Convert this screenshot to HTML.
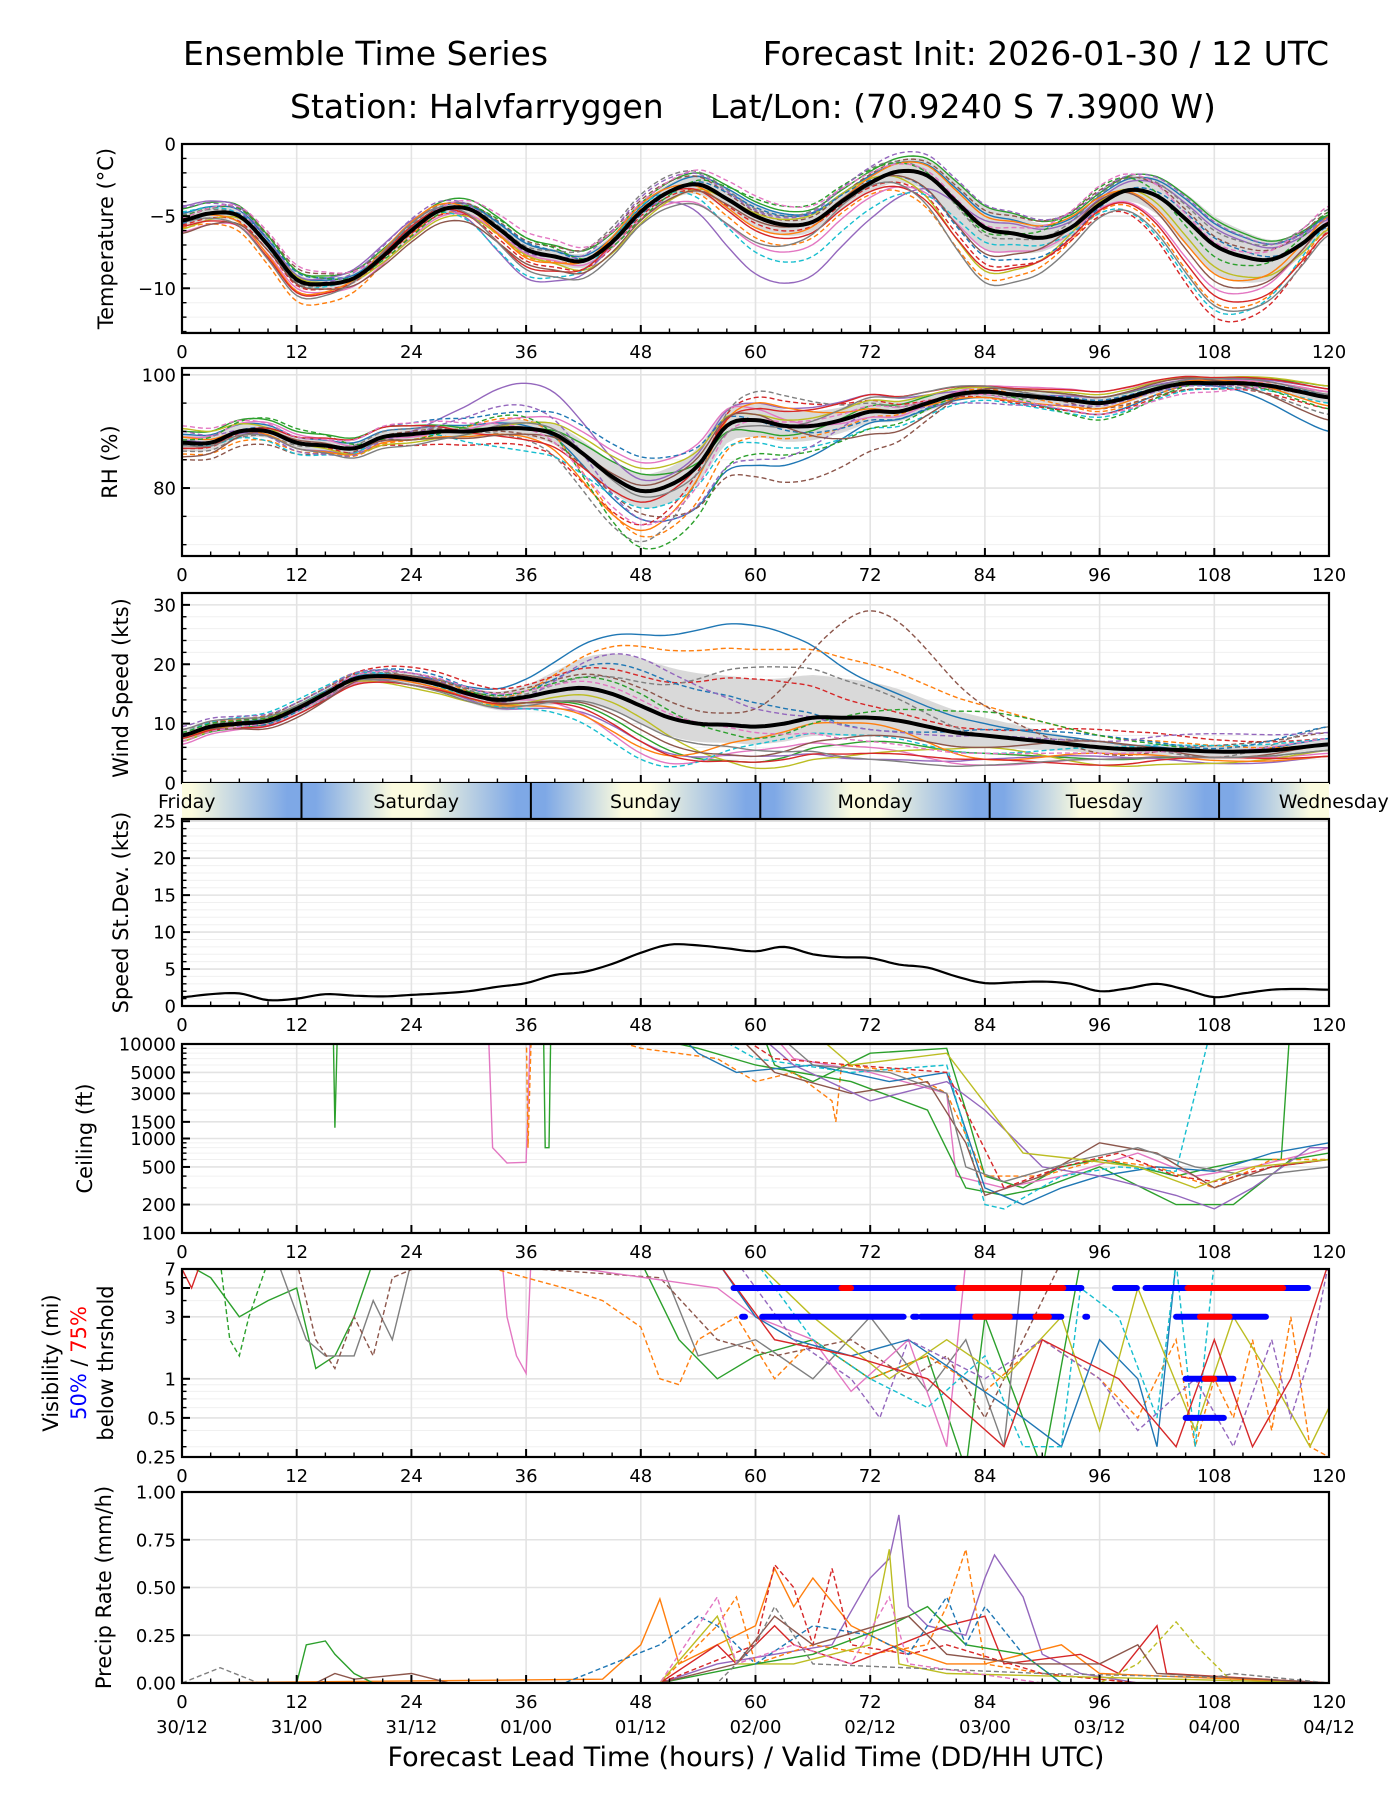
<!DOCTYPE html>
<html><head><meta charset="utf-8"><title>Ensemble Time Series</title>
<style>html,body{margin:0;padding:0;background:#fff;}svg{display:block;font-family:"DejaVu Sans","Liberation Sans",sans-serif;}</style>
</head><body>
<svg id="fig" width="1400" height="1800" viewBox="0 0 1400 1800" xmlns="http://www.w3.org/2000/svg">
<defs>
<linearGradient id="dayGrad" x1="182" x2="1329" y1="0" y2="0" gradientUnits="userSpaceOnUse"></linearGradient>
</defs>
<text x="183" y="65" font-size="33">Ensemble Time Series</text>
<text x="1329" y="65" font-size="33" text-anchor="end">Forecast Init: 2026-01-30 / 12 UTC</text>
<text x="290" y="118" font-size="33">Station: Halvfarryggen</text>
<text x="710" y="118" font-size="33">Lat/Lon: (70.9240 S 7.3900 W)</text>
<g id="plots"></g>
<text x="746" y="1766" font-size="27" text-anchor="middle">Forecast Lead Time (hours) / Valid Time (DD/HH UTC)</text>
</svg>
<script>
// ---------------- data ----------------
const xTicks = [0,12,24,36,48,60,72,84,96,108,120];
const dateLabels = ["30/12","31/00","31/12","01/00","01/12","02/00","02/12","03/00","03/12","04/00","04/12"];
const dayNames = ["Friday","Saturday","Sunday","Monday","Tuesday","Wednesday"];
const dayCenters = [0.5,24.5,48.5,72.5,96.5,120.5];
const dayBounds = [12.5,36.5,60.5,84.5,108.5];
// temperature mean, 3-hourly
const tempMean = [-5.3,-4.8,-5.0,-7.0,-9.4,-9.7,-9.3,-7.8,-6.0,-4.6,-4.5,-5.8,-7.3,-7.8,-8.1,-6.8,-4.7,-3.3,-2.8,-3.8,-5.0,-5.6,-5.4,-4.0,-2.7,-1.9,-2.2,-4.0,-5.8,-6.2,-6.5,-5.8,-4.2,-3.2,-3.6,-5.2,-7.0,-7.8,-8.0,-7.0,-5.5];
const tempSpread = [0.5,0.4,0.4,0.5,0.5,0.8,0.6,1.5,0.5,2.0,0.5];
const tempDev0 = [0.5,0.3,0.2,0.4,0.3,0.8,0.5,1.0,0.6,1.5,0.5];
const tempDev1 = [-0.5,-1.5,-0.3,-0.5,0.2,-1.5,-0.8,-3.5,-0.5,-4.0,-0.3];
const tempDev2 = [0.8,0.6,0.5,0.8,0.6,1.0,0.8,1.5,0.8,1.8,0.6];
const tempDev3 = [-0.3,-0.4,-0.2,-0.8,-0.3,-0.5,-0.3,-2.5,-0.8,-5.0,-0.5];
const tempDev4 = [1.0,0.3,0.7,-2.0,0.0,-4.0,-2.5,0.5,0.4,1.2,0.3];
const tempDev5 = [0.2,0.8,0.2,0.6,0.8,0.3,0.6,1.2,1.0,0.6,0.8];
const tempDev6 = [-0.8,-0.6,-0.5,-0.3,-0.5,-2.0,-1.0,-1.5,-0.3,-3.0,0.2];
const tempDev7 = [0.4,-0.2,0.4,0.2,1.2,0.5,1.0,-0.5,0.7,1.0,1.0];
const tempDev8 = [-0.6,0.2,-0.6,-0.4,-0.8,0.2,0.3,-3.0,0.2,-1.5,-0.4];
const tempDev9 = [0.6,-0.3,0.3,-1.8,0.4,-2.5,-1.8,-1.0,-0.6,-4.5,0.0];
const tempDev10 = [-0.2,0.5,-0.1,0.5,-0.2,0.6,0.2,-2.0,-0.2,0.5,-0.2];
const tempDev11 = [0.1,-0.8,0.6,-0.6,0.5,-0.8,0.4,0.8,0.5,-2.0,0.5];
const tempDev12 = [0.3,0.6,-0.4,0.8,-0.5,1.2,0.9,-0.3,1.2,-0.8,0.8];
const tempDev13 = [-0.4,-0.9,0.3,-1.2,0.1,-1.0,-0.6,-2.8,-0.4,-3.5,-0.6];
const tempDev14 = [0.9,0.0,0.8,-0.2,1.0,0.4,1.1,1.6,0.9,1.6,0.4];
const tempDev15 = [-0.9,-0.3,-0.8,-1.0,-0.6,-0.3,0.1,-1.8,0.3,-2.5,0.1];
const tempDev16 = [0.2,1.0,0.0,1.2,0.6,1.4,0.7,0.2,1.3,0.2,1.2];
const tempDev17 = [-0.1,-1.1,0.5,-1.4,-0.9,-1.8,-0.2,-3.8,-0.9,-4.2,-0.8];
// RH
const rhMean = [88,88,90,90,88,87.5,87,89,89.5,90,90,90.5,90.5,89.5,86,82,79.5,80.5,84,91,92,91,91,92,93.5,93.5,95,96.5,97,96.5,96,95.5,95,96,97.5,98.5,98.5,98.5,98,97,96];
const rhSpread = [1.5,1,1,1.5,3,3,2,1,1,0.5,1];
const rhDev0 = [1.5,1.0,1.0,0.5,-5,-8,-2,-1,-2,-0.5,-6];
const rhDev1 = [-2,-1.5,-1,1.5,-8,-3,-1,0.5,-1.5,0,1];
const rhDev2 = [2,2,1.5,0,3,-2,1,1,1,0.5,2];
const rhDev3 = [-1,0,-2,-3,-6,4,2,-1,-2,-1,-2];
const rhDev4 = [0.5,-1,0.5,8,2,3,3,0,1,0.5,1.5];
const rhDev5 = [-3,-2,0.5,-1,-4,-10,-7,0.5,-1,-1,0];
const rhDev6 = [1,1.5,-0.5,2,5,2,-1,1,2,0.5,1];
const rhDev7 = [-1.5,-0.5,1,-2,-9,5,1.5,-0.5,0,-0.3,-3];
const rhDev8 = [2.5,0,-1.5,1,4,1,2,0.8,1.5,1,2];
const rhDev9 = [0,-2,0,-4,-3,-4,-3,-1.5,-2.5,-1,-1];
const rhDev10 = [-0.5,1,2,3,6,0,-1.5,0,0.5,0,0.5];
const rhDev11 = [1,-1,-1,-1.5,-7,3,0.5,-1,-1,0.5,-1.5];
const rhDev12 = [0.5,2.5,-1,2,-10,-6,-3,0,-3,0,-2];
const rhDev13 = [-1,1,1.5,-2,-2,2,3,1,2,1,1.5];
const rhDev14 = [2,-1.5,0,4,-5,-7,0,-2,-0.5,-0.5,0];
const rhDev15 = [-2.5,0.5,-1,-1,1,1,-4,0.5,1,0.5,-4];
const rhDev16 = [3,1,2,0,-6,0,1,-0.5,-2,-1.5,1];
const rhDev17 = [-0.5,-1,-2,1,-1,-1,2.5,1,0,0.8,0.5];
// wind
const windMean = [8,9.5,10,10.5,12.5,15,17.5,18,17.5,16.5,15,14,14.5,15.5,16,15,13,11,10,9.8,9.5,10,11,11,11,10.5,9.5,8.5,8,7.5,7,6.5,6,5.7,5.7,5.5,5.3,5.3,5.5,6,6.5];
const windUpper = [1,1,1,2,8,8,6,3,1,1,1];
const windLower = [1,1,1,2,3,3,3,2,1,1,1];
const windDev0 = [0,0.5,0.5,3,12,17,6,2,1,0,1];
const windDev1 = [0.5,1,1,1,10,13,9,5,2,1,0];
const windDev2 = [-1,-0.5,-1,-1,-5,-6,-4,-3,-2,-1,-1];
const windDev3 = [1,0,2,2,5,8,2,1,3,2,1];
const windDev4 = [-0.5,-1,-0.5,-2,-6,-5,-7,-4,-1.5,-2,-2];
const windDev5 = [0,1,0.5,1.5,3,3,18,5,-1,1,2];
const windDev6 = [-1.5,-0.5,-1,-0.5,-8,-4,-5,-5,-2,-1,-1.5];
const windDev7 = [1,-1,1,0.5,4,10,5,0,1,-1,3];
const windDev8 = [-1,0.5,-1.5,-1,-2,-7,-6,-2,-3,-2,-1];
const windDev9 = [0.5,1.5,0,-2,-9,-3,-3,-3,0,1,1];
const windDev10 = [0,-0.5,1.5,1,6,4,-2,1,2,0.5,3];
const windDev11 = [-0.5,0,-0.5,-1.5,-7,-2,-1,-4,-1,-1.5,-2];
const windDev12 = [0.5,0.5,0,1,2,-2,1,4,2,0,0];
const windDev13 = [-0.5,-1,-1,-1,-6,-6,-6,-4,-3,-1,-2];
const windDev14 = [1.5,1,1,0,8,3,-2,0,1,3,2];
const windDev15 = [0,-1.5,0.5,-1,-4,-5,-3,-2,1,-1,0];
const windDev16 = [-1,0,1,1,1,-1,-4,-3,-1,0,1];
const windDev17 = [1,0.5,-1,-1.5,-3,-4,-7,-5,-2,-1,-1];
// speed std dev
const stdVals = [1.2,1.6,1.7,0.8,1.0,1.6,1.4,1.3,1.5,1.7,2.0,2.6,3.1,4.2,4.6,5.7,7.2,8.3,8.2,7.8,7.4,8.0,7.0,6.6,6.5,5.6,5.2,4.0,3.1,3.2,3.3,3.0,2.0,2.4,3.0,2.2,1.2,1.7,2.2,2.3,2.2];
// ceiling members [hour, ft]
const ceil0 = [[0,20000],[15.8,20000],[16,1300],[16.3,20000],[60,20000],[62,6000],[66,4000],[72,8000],[80,9000],[82,2000],[84,400],[88,300],[92,500],[96,600],[100,500],[104,400],[108,500],[112,600],[115,600],[116,20000]];
const ceil1 = [[0,20000],[32,20000],[32.5,800],[34,550],[36,560],[36.5,20000],[60,20000],[64,7000],[72,5000],[80,3000],[81,400],[86,300],[92,400],[100,700],[106,400],[112,500],[118,700],[120,800]];
const ceil2 = [[36,20000],[36.2,800],[36.6,20000],[48,9000],[56,7000],[60,4000],[64,5000],[68,2500],[68.4,1500],[69,6000],[76,5000],[80,3000],[84,400],[90,400],[96,600],[102,500],[108,300],[114,600],[120,600]];
const ceil3 = [[37.8,20000],[38,800],[38.4,800],[38.6,20000],[54,9000],[60,6000],[70,4000],[78,2000],[82,300],[86,250],[90,300],[96,500],[104,200],[110,200],[116,600],[120,700]];
const ceil4 = [[50,20000],[54,8000],[58,5000],[66,6000],[74,4000],[80,5000],[84,300],[88,200],[92,300],[96,400],[102,500],[108,450],[114,700],[120,900]];
const ceil5 = [[52,20000],[60,7000],[70,5000],[80,6000],[84,200],[86,180],[92,400],[98,500],[104,450],[108,20000]];
const ceil6 = [[56,20000],[62,5000],[70,3000],[78,4000],[82,900],[84,250],[90,400],[96,900],[102,700],[108,300],[114,500],[120,600]];
const ceil7 = [[58,20000],[64,6000],[72,2500],[80,4000],[84,2000],[90,500],[96,400],[104,250],[108,180],[112,300],[118,800],[120,800]];
const ceil8 = [[55,20000],[62,7000],[70,6000],[80,5000],[86,300],[92,500],[98,700],[104,400],[108,350],[114,500],[120,600]];
const ceil9 = [[60,20000],[66,6000],[74,5000],[80,3000],[82,500],[86,350],[94,600],[100,800],[106,500],[112,400],[120,500]];
const ceil10 = [[64,20000],[70,6000],[80,8000],[88,700],[94,600],[100,500],[106,300],[112,500],[120,600]];
// visibility members [hour, mi]
const vis0 = [[0,8],[3,6],[6,3],[9,4],[12,5],[14,1.2],[16,1.5],[18,3],[20,8],[48,8],[52,2],[56,1],[60,1.5],[66,2],[72,1],[78,1.5],[82,0.2],[84,3],[90,0.2],[94,8]];
const vis1 = [[4,8],[5,2],[6,1.5],[7,3],[9,8]];
const vis2 = [[10,8],[13,2],[15,1.5],[18,1.5],[20,4],[22,2],[24,8],[50,8],[54,1.5],[60,2],[66,1],[72,3],[78,0.8],[82,2],[86,0.3],[88,8]];
const vis3 = [[12,8],[14,2],[16,1.2],[18,3],[20,1.5],[22,6],[26,8],[50,6],[56,2],[62,1.5],[70,2],[76,1],[80,1.5],[84,0.5],[88,2],[92,8]];
const vis4 = [[33.5,8],[34,3],[35,1.5],[36,1.1],[36.5,8],[56,5],[60,3],[66,2],[70,0.8],[76,2],[80,0.3],[82,8]];
const vis5 = [[30,8],[36,6],[40,5],[44,4],[48,2.5],[50,1],[52,0.9],[54,2],[58,3],[62,1],[66,2],[72,1],[78,1.5],[84,0.8],[90,2],[96,1],[100,0.5],[104,2],[106,0.3],[108,1],[110,0.5],[112,2],[114,0.4],[116,3],[118,0.3],[120,0.25]];
const vis6 = [[56,8],[60,3],[64,2],[70,1.5],[76,2],[82,1],[88,0.5],[92,0.3],[96,2],[100,1],[102,0.3],[104,8]];
const vis7 = [[60,8],[66,2],[72,1],[78,0.6],[84,1.5],[88,0.3],[92,0.3],[94,5],[98,3],[102,0.5],[104,8],[106,0.3],[108,8]];
const vis8 = [[60,8],[66,3],[74,1],[80,2],[86,1],[92,3],[96,0.4],[100,5],[106,0.4],[110,3],[114,1],[118,0.3],[120,0.6]];
const vis9 = [[58,8],[64,2],[70,1],[73,0.5],[76,2],[84,1],[90,2],[96,1],[100,0.4],[106,1],[110,0.3],[114,2],[116,0.5],[118,1.5],[120,8]];
const vis10 = [[0,7],[1,5],[2,8],[56,8],[62,2],[70,1.5],[78,1],[86,0.3],[90,2],[98,1],[104,0.3],[108,2],[112,0.3],[116,1],[120,8]];
// threshold bars [level, start, end]
const visBlue = [[5,57.7,94.1],[5,97.6,99.9],[5,100.8,117.8],[3,58.6,58.9],[3,60.7,75.5],[3,76.5,76.9],[3,77.3,92],[3,94.5,94.7],[3,104,113.4],[1,105,110],[0.5,105,109]];
const visRed = [[5,69,70],[5,81.2,92.2],[5,105.2,115.2],[3,83,86.6],[3,89.3,90.7],[3,106.5,109.6],[1,107,108]];
// precip members [hour, mm/h]
const pr0 = [[0,0],[50,0],[56,0.1],[62,0.15],[68,0.2],[72,0.55],[74,0.65],[75,0.88],[76,0.4],[78,0.3],[82,0.25],[84,0.55],[85,0.67],[88,0.45],[90,0.15],[94,0.05],[100,0],[120,0]];
const pr1 = [[0,0],[44,0.02],[48,0.2],[50,0.44],[52,0.1],[56,0.2],[60,0.3],[62,0.6],[64,0.4],[66,0.55],[70,0.3],[74,0.2],[80,0.1],[84,0.1],[92,0.2],[96,0.05],[120,0]];
const pr2 = [[0,0],[50,0],[56,0.3],[58,0.45],[60,0.1],[66,0.2],[72,0.15],[78,0.2],[80,0.4],[82,0.7],[84,0.1],[90,0.05],[100,0],[120,0]];
const pr3 = [[0,0],[50,0],[56,0.2],[58,0.1],[62,0.3],[64,0.2],[70,0.1],[80,0.3],[84,0.35],[86,0.1],[94,0.15],[98,0.05],[102,0.3],[103,0.05],[120,0]];
const pr4 = [[0,0],[50,0],[60,0.2],[62,0.62],[64,0.5],[66,0.2],[68,0.6],[70,0.2],[76,0.15],[80,0.2],[90,0.05],[100,0],[120,0]];
const pr5 = [[0,0],[50,0],[56,0.35],[58,0.1],[64,0.1],[72,0.2],[74,0.7],[75,0.1],[80,0.05],[120,0]];
const pr6 = [[0,0],[96,0],[100,0.1],[104,0.32],[106,0.2],[108,0.1],[110,0],[120,0]];
const pr7 = [[0,0],[12,0],[13,0.2],[15,0.22],[16,0.15],[18,0.05],[20,0],[50,0],[60,0.1],[66,0.15],[74,0.3],[78,0.4],[82,0.2],[88,0.15],[92,0],[120,0]];
const pr8 = [[0,0],[40,0],[50,0.2],[54,0.35],[56,0.3],[60,0.1],[66,0.3],[72,0.25],[76,0.15],[80,0.45],[82,0.2],[84,0.4],[88,0.15],[92,0],[120,0]];
const pr9 = [[0,0],[14,0],[16,0.05],[18,0.02],[24,0.05],[28,0],[50,0],[58,0.1],[62,0.35],[66,0.2],[76,0.35],[80,0.15],[88,0.1],[96,0.1],[100,0.2],[102,0.05],[120,0]];
const pr10 = [[0,0],[50,0],[56,0.45],[58,0.1],[64,0.2],[70,0.1],[74,0.45],[76,0.1],[90,0],[120,0]];
const pr11 = [[0,0],[4,0.08],[8,0],[56,0],[60,0.2],[62,0.4],[66,0.1],[90,0.05],[108,0.03],[110,0.05],[120,0]];

// ---------------- drawing ----------------
const NS="http://www.w3.org/2000/svg";
const X0=182, X1=1329;
const colors=["#1f77b4","#ff7f0e","#2ca02c","#d62728","#9467bd","#8c564b","#e377c2","#7f7f7f","#bcbd22","#17becf"];
const root=document.getElementById('plots');
function xs(h){return X0+h*(X1-X0)/120;}
function mk(tag,attrs,parent){const e=document.createElementNS(NS,tag);for(const k in attrs)e.setAttribute(k,attrs[k]);(parent||root).appendChild(e);return e;}
function cr(arr,step,h){const n=arr.length;let f=h/step;let i=Math.min(Math.floor(f),n-2);const t=f-i;
 const p0=arr[Math.max(i-1,0)],p1=arr[i],p2=arr[i+1],p3=arr[Math.min(i+2,n-1)];
 return 0.5*((2*p1)+(-p0+p2)*t+(2*p0-5*p1+4*p2-p3)*t*t+(-p0+3*p1-3*p2+p3)*t*t*t);}
function linLog(isLog,lo,hi,top,bot){return v=>{if(isLog){const a=Math.log10(lo),b=Math.log10(hi);const vv=Math.log10(Math.max(v,1e-6));return bot-(vv-a)/(b-a)*(bot-top);}return bot-(v-lo)/(hi-lo)*(bot-top);};}

function axesFrame(P){
 const g=mk('g',{});
 
 
 const cid='clip-'+P.name;
 const cp=mk('clipPath',{id:cid},g);mk('rect',{x:X0,y:P.top,width:X1-X0,height:P.bot-P.top},cp);
 const gg=mk('g',{},g);
 
 
 (P.minor||[]).forEach(v=>{const y=P.y(v);if(y>P.top+0.5&&y<P.bot-0.5)mk('line',{x1:X0,x2:X1,y1:y,y2:y,stroke:'#f0f0f0','stroke-width':1},gg);});
 P.ticks.forEach(v=>{const y=P.y(v);if(y>P.top+0.5&&y<P.bot-0.5)mk('line',{x1:X0,x2:X1,y1:y,y2:y,stroke:'#e3e3e3','stroke-width':1.6},gg);});
 xTicks.forEach(h=>{if(h>0&&h<120)mk('line',{x1:xs(h),x2:xs(h),y1:P.top,y2:P.bot,stroke:'#e3e3e3','stroke-width':1.6},gg);});
 const data=mk('g',{'clip-path':'url(#'+cid+')'},g);
 
 
 P.g=g;P.data=data;
 return P;
}
function finishAxes(P){
 const g=P.g;
 mk('rect',{x:X0,y:P.top,width:X1-X0,height:P.bot-P.top,fill:'none',stroke:'#000','stroke-width':2.2},g);
 for(let h=0;h<=120;h+=3){const maj=h%12===0;mk('line',{x1:xs(h),x2:xs(h),y1:P.bot,y2:P.bot-(maj?8:4.5),stroke:'#000','stroke-width':maj?2:1.4},g);}
 (P.minor||[]).forEach(v=>{const y=P.y(v);if(y>=P.top-0.5&&y<=P.bot+0.5)mk('line',{x1:X0,x2:X0+4.5,y1:y,y2:y,stroke:'#000','stroke-width':1.4},g);});
 P.ticks.forEach((v,i)=>{const y=P.y(v);mk('line',{x1:X0,x2:X0+8,y1:y,y2:y,stroke:'#000','stroke-width':2},g);
  const t=mk('text',{x:X0-6,y:y+6.5,'font-size':18,'text-anchor':'end'},g);t.textContent=P.labels[i];
  
  });
 if(P.xlabels){xTicks.forEach(h=>{const t=mk('text',{x:xs(h),y:P.bot+25,'font-size':18,'text-anchor':'middle'},g);t.textContent=String(h);
  
  });}
 if(P.ylab){const cy=(P.top+P.bot)/2;const t=mk('text',{x:0,y:0,'font-size':21,'text-anchor':'middle',transform:'translate('+(P.ylx)+','+cy+') rotate(-90)'},g);t.textContent=P.ylab;
  
  }
}
function pathFromFn(fn,y,step){let d='';for(let h=0;h<=120.0001;h+=step){const v=fn(h);d+=(d?'L':'M')+xs(h).toFixed(1)+','+y(v).toFixed(1);}return d;}
function pathFromPairs(pairs,y){return pairs.map((p,i)=>(i?'L':'M')+xs(p[0]).toFixed(1)+','+y(p[1]).toFixed(1)).join('');}
function memberStyle(i){return {fill:'none',stroke:colors[i%10],'stroke-width':1.4,'stroke-dasharray':(i%2===1)?'5,3':'none'};}

function ensemblePanel(P,mean,lowS,upS,devs,clampHi,clampLo){
 axesFrame(P);
 const m=h=>cr(mean,3,h);
 let up='',lo=[];
 for(let h=0;h<=120;h+=1){up+=(up?'L':'M')+xs(h).toFixed(1)+','+P.y(m(h)+cr(upS,12,h)).toFixed(1);lo.push(xs(h).toFixed(1)+','+P.y(m(h)-cr(lowS,12,h)).toFixed(1));}
 const band=mk('path',{d:up+'L'+lo.reverse().join('L')+'Z',fill:'#d9d9d9',stroke:'none'},P.data);
 
 
 devs.forEach((dv,i)=>{
  const fn=h=>{let v=m(h)+cr(dv,12,h);if(clampHi!==undefined)v=Math.min(v,clampHi);if(clampLo!==undefined)v=Math.max(v,clampLo);return v;};
  const st=memberStyle(i);st['stroke-dasharray']=((i+Math.floor(i/10))%2===1)?'5,3':'none';
  const p=mk('path',Object.assign({d:pathFromFn(fn,P.y,0.5)},st),P.data);
  
  
 });
 const ml=mk('path',{d:pathFromFn(m,P.y,0.5),fill:'none',stroke:'#000','stroke-width':4,'stroke-linejoin':'round'},P.data);
 
 
 finishAxes(P);
}

// Temperature
const PT={name:'temperature',top:144,bot:333,xlabels:true,ylab:'Temperature (°C)',ylx:113,
 ticks:[0,-5,-10],labels:['0','\u22125','\u221210'],minor:[-1,-2,-3,-4,-6,-7,-8,-9,-11,-12,-13]};
PT.y=linLog(false,-13.1,0,PT.top,PT.bot);
ensemblePanel(PT,tempMean,tempSpread,tempSpread,[tempDev0,tempDev1,tempDev2,tempDev3,tempDev4,tempDev5,tempDev6,tempDev7,tempDev8,tempDev9,tempDev10,tempDev11,tempDev12,tempDev13,tempDev14,tempDev15,tempDev16,tempDev17]);
// RH
const PR={name:'rh',top:368,bot:556,xlabels:true,ylab:'RH (%)',ylx:117,ticks:[80,100],labels:['80','100'],minor:[70,75,85,90,95]};
PR.y=linLog(false,68,101.2,PR.top,PR.bot);
ensemblePanel(PR,rhMean,rhSpread,rhSpread,[rhDev0,rhDev1,rhDev2,rhDev3,rhDev4,rhDev5,rhDev6,rhDev7,rhDev8,rhDev9,rhDev10,rhDev11,rhDev12,rhDev13,rhDev14,rhDev15,rhDev16,rhDev17],100);
// Wind
const PW={name:'wind-speed',top:593,bot:783,xlabels:false,ylab:'Wind Speed (kts)',ylx:128,ticks:[0,10,20,30],labels:['0','10','20','30'],minor:[2,4,6,8,12,14,16,18,22,24,26,28]};
PW.y=linLog(false,0,32,PW.top,PW.bot);
ensemblePanel(PW,windMean,windLower,windUpper,[windDev0,windDev1,windDev2,windDev3,windDev4,windDev5,windDev6,windDev7,windDev8,windDev9,windDev10,windDev11,windDev12,windDev13,windDev14,windDev15,windDev16,windDev17],undefined,0.2);

// Day band
(function(){
 const gr=document.getElementById('dayGrad');
 const blue='#7ea8e6',cream='#fbfbdf';
 const stops=[];
 for(let k=-1;k<=6;k++){const c=24*k-0.5, b=12.5+24*k;
  stops.push([c-1.5,cream],[c+1.5,cream],[b-1.5,blue],[b+1.5,blue]);}
 stops.sort((a,b)=>a[0]-b[0]).forEach(s=>{if(s[0]<-3||s[0]>123)return;mk('stop',{offset:Math.min(1,Math.max(0,s[0]/120)),'stop-color':s[1]},gr);});
 const g=mk('g',{});
 
 
 mk('rect',{x:X0,y:783,width:X1-X0,height:36,fill:'url(#dayGrad)'},g);
 dayBounds.forEach(h=>mk('line',{x1:xs(h),x2:xs(h),y1:783,y2:819,stroke:'#000','stroke-width':2},g));
 dayNames.forEach((n,i)=>{const t=mk('text',{x:xs(dayCenters[i]),y:808,'font-size':19,'text-anchor':'middle'},g);t.textContent=n;
  
  });
})();

// Std dev
const PS={name:'speed-stdev',top:819,bot:1006,xlabels:true,ylab:'Speed St.Dev. (kts)',ylx:128,ticks:[0,5,10,15,20,25],labels:['0','5','10','15','20','25'],minor:[1,2,3,4,6,7,8,9,11,12,13,14,16,17,18,19,21,22,23,24]};
PS.y=linLog(false,0,25.3,PS.top,PS.bot);
axesFrame(PS);
(function(){const p=mk('path',{d:pathFromFn(h=>cr(stdVals,3,h),PS.y,0.5),fill:'none',stroke:'#000','stroke-width':2.2},PS.data);
 
 })();
finishAxes(PS);

// Ceiling
const PC={name:'ceiling',top:1044,bot:1233,xlabels:true,ylab:'Ceiling (ft)',ylx:92,
 ticks:[100,200,500,1000,1500,3000,5000,10000],labels:['100','200','500','1000','1500','3000','5000','10000'],
 minor:[300,400,600,700,800,900,2000,4000,6000,7000,8000,9000]};
PC.y=linLog(true,100,10000,PC.top,PC.bot);
axesFrame(PC);
[ceil0,ceil1,ceil2,ceil3,ceil4,ceil5,ceil6,ceil7,ceil8,ceil9,ceil10].forEach((m,i)=>{
 const st=memberStyle([2,6,1,2,0,9,5,4,3,7,8][i]);st['stroke-dasharray']=(i%3===2)?'5,3':'none';
 const p=mk('path',Object.assign({d:pathFromPairs(m,PC.y)},st),PC.data);
 
 });
finishAxes(PC);

// Visibility
const PV={name:'visibility',top:1269,bot:1457,xlabels:true,ylab:null,
 ticks:[0.25,0.5,1,3,5,7],labels:['0.25','0.5','1','3','5','7'],minor:[0.3,0.4,0.6,0.7,0.8,0.9,2,4,6]};
PV.y=linLog(true,0.25,7,PV.top,PV.bot);
axesFrame(PV);
[vis0,vis1,vis2,vis3,vis4,vis5,vis6,vis7,vis8,vis9,vis10].forEach((m,i)=>{
 const st=memberStyle([2,2,7,5,6,1,0,9,8,4,3][i]);st['stroke-dasharray']=(i%2===1)?'5,3':'none';
 const p=mk('path',Object.assign({d:pathFromPairs(m,PV.y)},st),PV.data);
 
 });
visBlue.forEach(s=>{const l=mk('line',{x1:xs(s[1]),x2:xs(s[2]),y1:PV.y(s[0]),y2:PV.y(s[0]),stroke:'#0000ff','stroke-width':6,'stroke-linecap':'round'},PV.data);
 
 });
visRed.forEach(s=>{const l=mk('line',{x1:xs(s[1]),x2:xs(s[2]),y1:PV.y(s[0]),y2:PV.y(s[0]),stroke:'#ff0000','stroke-width':6,'stroke-linecap':'round'},PV.data);
 
 });
finishAxes(PV);
(function(){const cy=(PV.top+PV.bot)/2;
 const t1=mk('text',{'font-size':21,'text-anchor':'middle',transform:'translate(58,'+cy+') rotate(-90)'});t1.textContent='Visibility (mi)';
 
 
 const t2=mk('text',{'font-size':21,'text-anchor':'middle',transform:'translate(86,'+cy+') rotate(-90)'});
 
 
 const a=mk('tspan',{fill:'#0000ff'},t2);a.textContent='50%';const b=mk('tspan',{fill:'#000'},t2);b.textContent=' / ';const c=mk('tspan',{fill:'#ff0000'},t2);c.textContent='75%';
 const t3=mk('text',{'font-size':21,'text-anchor':'middle',transform:'translate(113,'+cy+') rotate(-90)'});t3.textContent='below thrshold';
 
 
})();

// Precip
const PP={name:'precip',top:1492,bot:1683,xlabels:true,ylab:'Precip Rate (mm/h)',ylx:111,
 ticks:[0,0.25,0.5,0.75,1.0],labels:['0.00','0.25','0.50','0.75','1.00'],minor:[]};
PP.y=linLog(false,0,1.0,PP.top,PP.bot);
axesFrame(PP);
[pr0,pr1,pr2,pr3,pr4,pr5,pr6,pr7,pr8,pr9,pr10,pr11].forEach((m,i)=>{
 const st=memberStyle([4,1,1,3,3,8,8,2,0,5,6,7][i]);st['stroke-dasharray']=([2,4,6,8,10,11].indexOf(i)>=0)?'5,3':'none';
 const p=mk('path',Object.assign({d:pathFromPairs(m,PP.y)},st),PP.data);
 
 });
finishAxes(PP);
xTicks.forEach((h,i)=>{const t=mk('text',{x:xs(h),y:1733,'font-size':18,'text-anchor':'middle'});t.textContent=dateLabels[i];
 
 });
</script>
</body></html>
